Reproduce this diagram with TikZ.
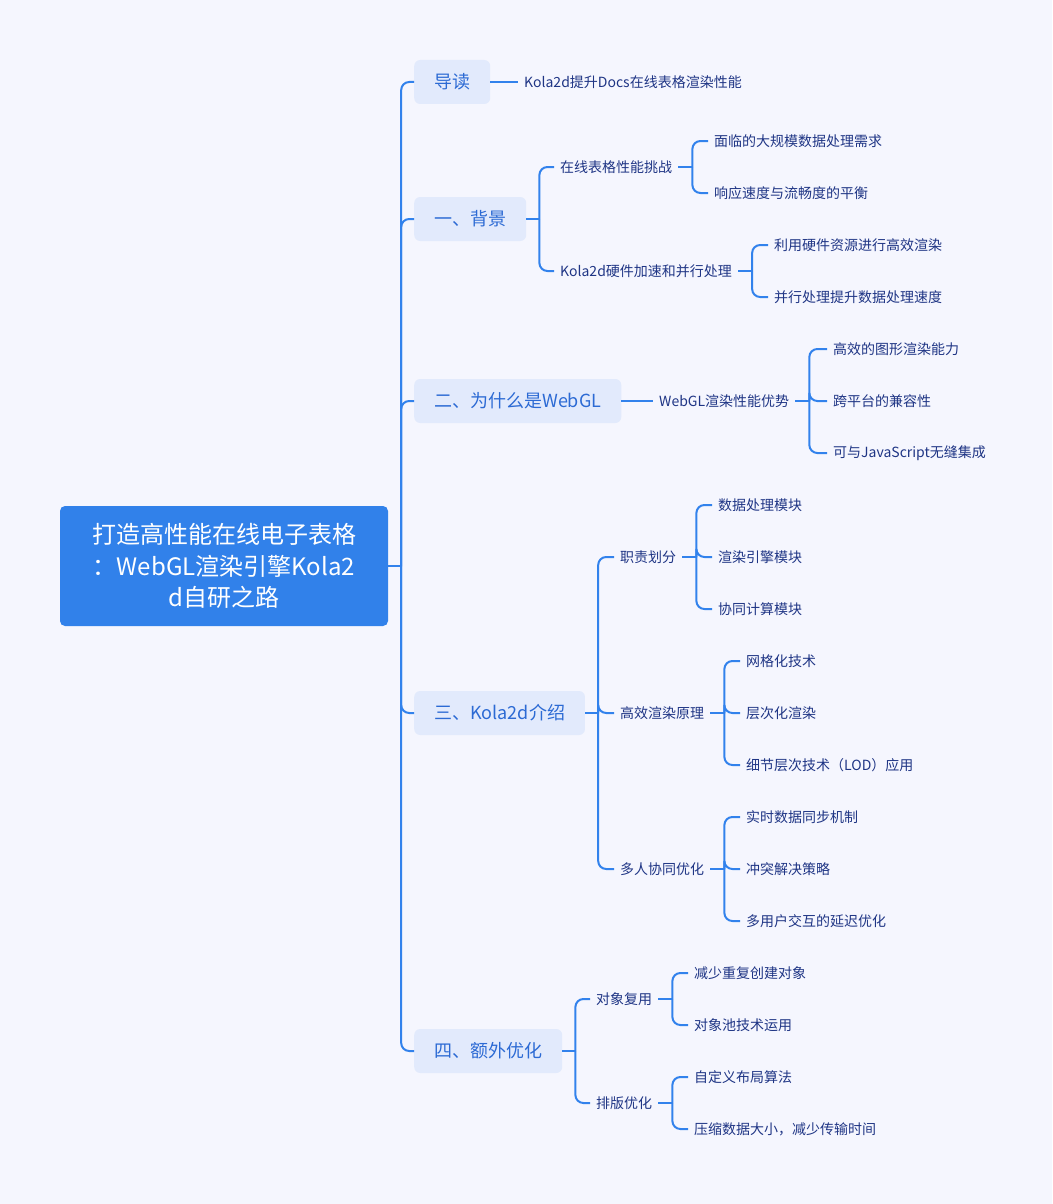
\documentclass[tikz,border=0pt]{standalone}
\usepackage{fontspec}
\setmainfont{Noto Sans CJK SC}
\usetikzlibrary{positioning}

\definecolor{bgcol}{HTML}{F5F6FE}
\definecolor{rootblue}{HTML}{3181EA}
\definecolor{topicfill}{HTML}{E2EAFC}
\definecolor{topictext}{HTML}{2C6AD4}
\definecolor{leaftext}{HTML}{1F3585}
\definecolor{linkblue}{HTML}{3282EC}

\tikzset{
    rootbox/.style={fill=rootblue, rounded corners=5pt, text=white, align=center,
        minimum width=328pt, minimum height=120pt, font=\fontsize{24}{31.5}\selectfont},
    topicbox/.style={fill=topicfill, rounded corners=6pt, text=topictext, anchor=west,
        minimum height=44pt, inner xsep=20pt, font=\fontsize{18}{22}\selectfont},
    leafnode/.style={text=leaftext, anchor=west, inner xsep=6pt, inner ysep=2pt,
        font=\fontsize{14}{17}\selectfont},
    linkline/.style={draw=linkblue, line width=2pt},
    elbowline/.style={linkline, rounded corners=8pt}
}

\begin{document}
\begin{tikzpicture}[x=1pt, y=-1pt]
    \fill[bgcol] (0,0) rectangle (1052,1204);
    \useasboundingbox (0,0) rectangle (1052,1204);

    \node[rootbox] (root) at (224,566) {打造高性能在线电子表格\\：WebGL渲染引擎Kola2\\d自研之路};

    \node[topicbox] (t0) at (414,82) {导读};
    \node[topicbox] (t1) at (414,219) {一、背景};
    \node[topicbox] (t2) at (414,401) {二、为什么是WebGL};
    \node[topicbox] (t3) at (414,713) {三、Kola2d介绍};
    \node[topicbox] (t4) at (414,1051) {四、额外优化};

    \draw[linkline] (root.east) -- ++(13,0) coordinate (root-j);
    \foreach \t in {t0,t1,t2,t3,t4}{
        \draw[elbowline] (root-j) |- (\t.west);
    }

    % 导读
    \node[leafnode] (t0-a) at (518,82) {Kola2d提升Docs在线表格渲染性能};
    \draw[linkline] (t0.east) -- (t0-a.west);

    % 一、背景
    \node[leafnode] (t1-a) at (554,167) {在线表格性能挑战};
    \node[leafnode] (t1-b) at (554,271) {Kola2d硬件加速和并行处理};
    \draw[linkline] (t1.east) -- ++(13,0) coordinate (t1-j);
    \foreach \n in {a,b}{
        \draw[elbowline] (t1-j) |- (t1-\n.west);
    }

    \draw[linkline] (t1-a.east) -- ++(14,0) coordinate (t1-a-j);
    \foreach \n/\y/\txt in {a/141/面临的大规模数据处理需求, b/193/响应速度与流畅度的平衡}{
        \node[leafnode] (t1-a-\n) at (708,\y) {\txt};
        \draw[elbowline] (t1-a-j) |- (t1-a-\n.west);
    }

    \draw[linkline] (t1-b.east) -- ++(14,0) coordinate (t1-b-j);
    \foreach \n/\y/\txt in {a/245/利用硬件资源进行高效渲染, b/297/并行处理提升数据处理速度}{
        \node[leafnode] (t1-b-\n) at (768,\y) {\txt};
        \draw[elbowline] (t1-b-j) |- (t1-b-\n.west);
    }

    % 二、为什么是WebGL
    \node[leafnode] (t2-a) at (653,401) {WebGL渲染性能优势};
    \draw[linkline] (t2.east) -- (t2-a.west);

    \draw[linkline] (t2-a.east) -- ++(14,0) coordinate (t2-a-j);
    \foreach \n/\y/\txt in {a/349/高效的图形渲染能力, b/401/跨平台的兼容性, c/453/可与JavaScript无缝集成}{
        \node[leafnode] (t2-a-\n) at (827,\y) {\txt};
        \draw[elbowline] (t2-a-j) |- (t2-a-\n.west);
    }

    % 三、Kola2d介绍
    \node[leafnode] (t3-a) at (614,557) {职责划分};
    \node[leafnode] (t3-b) at (614,713) {高效渲染原理};
    \node[leafnode] (t3-c) at (614,869) {多人协同优化};
    \draw[linkline] (t3.east) -- ++(13,0) coordinate (t3-j);
    \foreach \n in {a,b,c}{
        \draw[elbowline] (t3-j) |- (t3-\n.west);
    }

    \draw[linkline] (t3-a.east) -- ++(14,0) coordinate (t3-a-j);
    \foreach \n/\y/\txt in {a/505/数据处理模块, b/557/渲染引擎模块, c/609/协同计算模块}{
        \node[leafnode] (t3-a-\n) at (712,\y) {\txt};
        \draw[elbowline] (t3-a-j) |- (t3-a-\n.west);
    }

    \draw[linkline] (t3-b.east) -- ++(14,0) coordinate (t3-b-j);
    \foreach \n/\y/\txt in {a/661/网格化技术, b/713/层次化渲染, c/765/细节层次技术（LOD）应用}{
        \node[leafnode] (t3-b-\n) at (740,\y) {\txt};
        \draw[elbowline] (t3-b-j) |- (t3-b-\n.west);
    }

    \draw[linkline] (t3-c.east) -- ++(14,0) coordinate (t3-c-j);
    \foreach \n/\y/\txt in {a/817/实时数据同步机制, b/869/冲突解决策略, c/921/多用户交互的延迟优化}{
        \node[leafnode] (t3-c-\n) at (740,\y) {\txt};
        \draw[elbowline] (t3-c-j) |- (t3-c-\n.west);
    }

    % 四、额外优化
    \node[leafnode] (t4-a) at (590,999) {对象复用};
    \node[leafnode] (t4-b) at (590,1103) {排版优化};
    \draw[linkline] (t4.east) -- ++(13,0) coordinate (t4-j);
    \foreach \n in {a,b}{
        \draw[elbowline] (t4-j) |- (t4-\n.west);
    }

    \draw[linkline] (t4-a.east) -- ++(14,0) coordinate (t4-a-j);
    \foreach \n/\y/\txt in {a/973/减少重复创建对象, b/1025/对象池技术运用}{
        \node[leafnode] (t4-a-\n) at (688,\y) {\txt};
        \draw[elbowline] (t4-a-j) |- (t4-a-\n.west);
    }

    \draw[linkline] (t4-b.east) -- ++(14,0) coordinate (t4-b-j);
    \foreach \n/\y/\txt in {a/1077/自定义布局算法, b/1129/压缩数据大小，减少传输时间}{
        \node[leafnode] (t4-b-\n) at (688,\y) {\txt};
        \draw[elbowline] (t4-b-j) |- (t4-b-\n.west);
    }
\end{tikzpicture}
\end{document}
